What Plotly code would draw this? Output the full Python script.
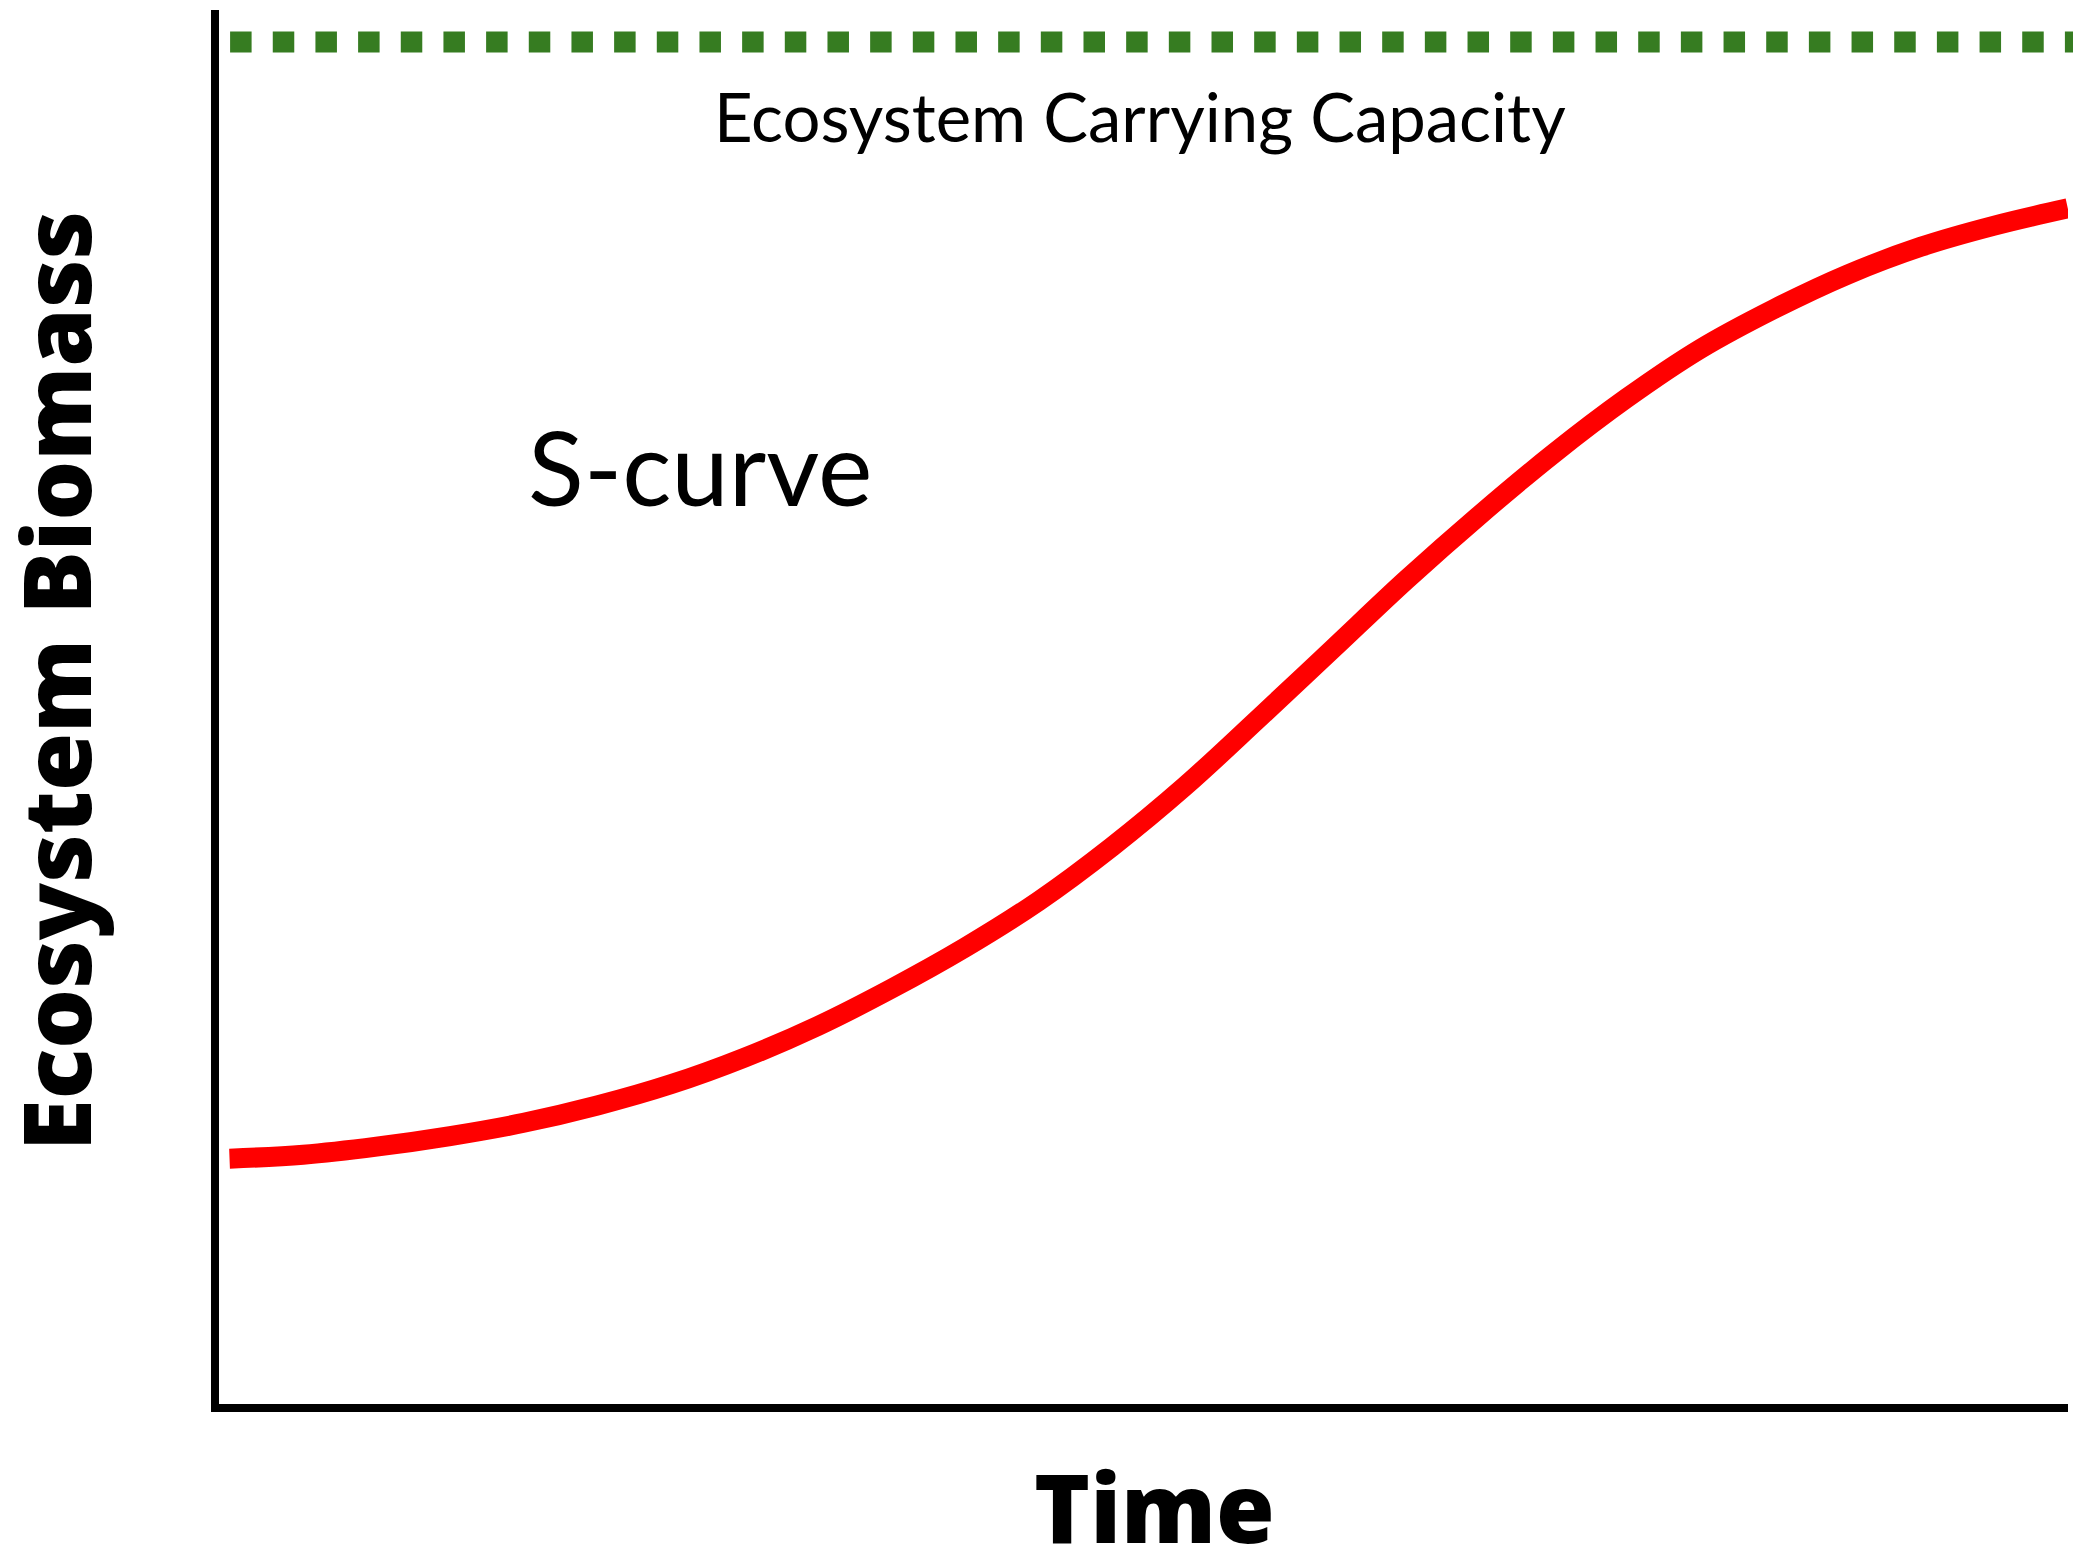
import plotly.graph_objects as go

# time (0-100) and biomass (0-100)
time = [0.57, 4.55, 8.52, 12.50, 16.48, 20.46, 24.43, 28.41, 32.39, 36.36,
        40.34, 44.32, 48.29, 52.27, 56.25, 60.23, 64.20, 68.18, 72.16, 76.13,
        80.11, 84.09, 88.06, 92.04, 96.02, 99.99]
biomass = [17.60, 17.88, 18.46, 19.22, 20.17, 21.41, 22.93, 24.84, 27.12, 29.79,
           32.74, 36.07, 39.97, 44.35, 49.21, 54.16, 59.11, 63.77, 68.16, 72.15,
           75.68, 78.54, 81.01, 83.01, 84.53, 85.77]
carrying_capacity = 97.7

fig = go.Figure()

fig.add_trace(
    go.Scatter(
        x=time,
        y=biomass,
        mode="lines",
        line=dict(color="#FF0000", width=20, shape="spline", smoothing=1.0),
        hoverinfo="skip",
        showlegend=False,
    )
)

# carrying capacity, dotted green line running off the right edge
fig.add_shape(
    type="line",
    xref="paper",
    yref="y",
    x0=0.006,
    x1=1.02,
    y0=carrying_capacity,
    y1=carrying_capacity,
    line=dict(color="#367C21", width=21, dash="21.5px,21.17px"),
    layer="above",
)

fig.add_annotation(
    text="Ecosystem Carrying Capacity",
    xref="x", yref="y", x=49.8, y=92.4,
    showarrow=False, xanchor="center", yanchor="middle",
    font=dict(family="Lato", size=67, color="black"),
)
fig.add_annotation(
    text="S-curve",
    xref="x", yref="y", x=26.0, y=67.3,
    showarrow=False, xanchor="center", yanchor="middle",
    font=dict(family="Lato", size=103, color="black"),
)
fig.add_annotation(
    text="Time",
    xref="paper", yref="paper", x=0.506, y=-0.073,
    showarrow=False, xanchor="center", yanchor="middle",
    font=dict(family="Open Sans", size=95, color="black", weight=800),
)
fig.add_annotation(
    text="Ecosystem Biomass",
    xref="paper", yref="paper", x=-0.089, y=0.519,
    textangle=-90,
    showarrow=False, xanchor="center", yanchor="middle",
    font=dict(family="Open Sans", size=94, color="black", weight=800),
)

axis_style = dict(
    range=[0, 100],
    showline=True,
    linewidth=8,
    linecolor="black",
    showgrid=False,
    zeroline=False,
    showticklabels=False,
    ticks="",
    fixedrange=True,
)

# the page body keeps its 8px margin, so the figure is 8px smaller each way
fig.update_layout(
    width=2073,
    height=1539,
    paper_bgcolor="white",
    plot_bgcolor="white",
    margin=dict(l=211, r=13, t=2, b=143, pad=0),
    xaxis=axis_style,
    yaxis=axis_style,
    showlegend=False,
)

fig.write_html("out.html")
